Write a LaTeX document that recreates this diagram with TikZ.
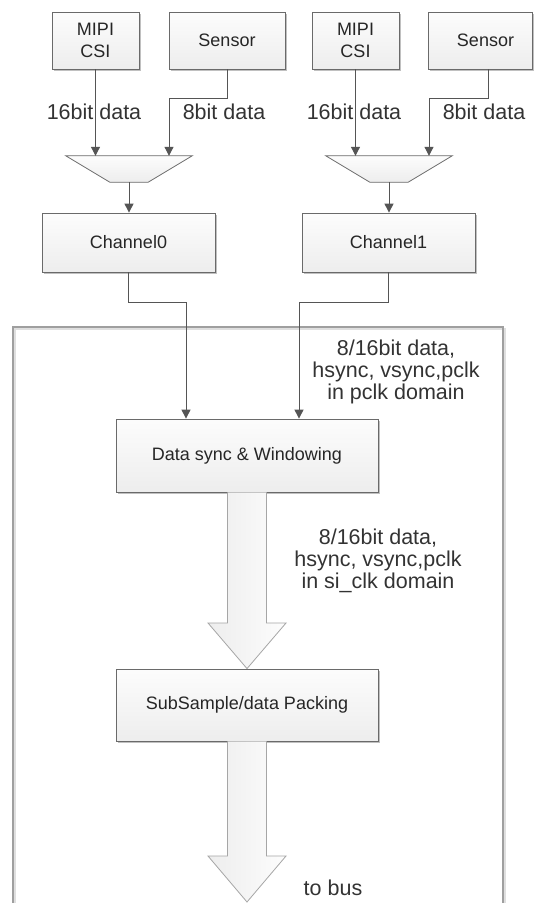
\documentclass[tikz,border=0pt]{standalone}
\usepackage{fontspec}
\setmainfont{Liberation Sans}
\usetikzlibrary{arrows.meta,shadows,calc}
\definecolor{lineC}{HTML}{555555}
\definecolor{boxC}{HTML}{6A6A6A}
\definecolor{txtC}{HTML}{333333}
\begin{document}
\begin{tikzpicture}[x=1pt,y=-1pt,
 blk/.style={draw=boxC, line width=0.8pt, top color=gray!2, bottom color=gray!14,
   text=black!85, font=\fontsize{18}{22}\selectfont, inner sep=0pt, align=center,
   drop shadow={shadow xshift=2pt, shadow yshift=-2pt, fill=gray!70, opacity=0.7}},
 lbl/.style={text=txtC, font=\fontsize{21.5}{22}\selectfont, inner sep=0pt, align=center},
 conn/.style={draw=lineC, line width=1pt, -{Triangle[width=9pt,length=9pt]}},
 muxbox/.style={minimum width=126pt, minimum height=26pt, inner sep=0pt},
 muxshape/.style={draw=boxC, line width=0.8pt, top color=gray!2, bottom color=gray!14},
 bigarrow/.style={draw=gray!70, line width=0.8pt, left color=gray!14, right color=gray!2},
 frame/.style={draw=gray!75, line width=1.2pt},
 frameshadow/.style={draw=gray!25, line width=1.2pt},
]
\useasboundingbox (0,0) rectangle (534,903);
\fill[white] (0,0) rectangle (534,903);

% outer frame (open at the bottom)
\draw[frameshadow] (15,910) -- (15,329) -- (505,329) -- (505,910);
\draw[frame] (13,910) -- (13,327) -- (503,327) -- (503,910);

% sources
\node[blk, minimum width=87pt, minimum height=57pt] (mipi0) at (95.5,40.5) {MIPI\\CSI};
\node[blk, minimum width=116pt, minimum height=57pt] (sens0) at (227,40.5) {Sensor};
\node[blk, minimum width=87pt, minimum height=57pt] (mipi1) at (355.5,40.5) {MIPI\\CSI};
\node[blk, minimum width=104pt, minimum height=57pt] (sens1) at (480,40.5) {\hspace*{11pt}Sensor};

% muxes
\node[muxbox] (mux0) at (129,169) {};
\node[muxbox] (mux1) at (389,169) {};
\foreach \m in {mux0,mux1}{
  \path[muxshape] (\m.north west) -- (\m.north east) -- ($(\m.south east)+(-44,0)$)
     -- ($(\m.south west)+(44,0)$) -- cycle;
}

% channels
\node[blk, minimum width=173pt, minimum height=59pt] (ch0) at (128.5,242.5) {Channel0};
\node[blk, minimum width=173pt, minimum height=59pt] (ch1) at (388.5,242.5) {Channel1};

% inner blocks
\node[blk, minimum width=262pt, minimum height=73pt] (sync) at (247,455.5) {Data sync \& Windowing};
\node[blk, minimum width=262pt, minimum height=72pt] (sub) at (247,705) {SubSample/data Packing};
\coordinate (bus) at (247,902);

% connectors to muxes
\draw[conn] (mipi0.south) -- (mipi0.south |- mux0.north);
\draw[conn] (sens0.south) -- ++(0,29) -| ([xshift=40pt]mux0.north);
\draw[conn] (mipi1.south) -- (mipi1.south |- mux1.north);
\draw[conn] ([xshift=8pt]sens1.south) -- ++(0,29) -| ([xshift=40pt]mux1.north);

% mux to channel
\draw[conn] (mux0.south) -- (mux0.south |- ch0.north);
\draw[conn] (mux1.south) -- (mux1.south |- ch1.north);

% channels to sync
\draw[conn] (ch0.south) -- ++(0,30) -| ([xshift=-61pt]sync.north);
\draw[conn] (ch1.south) -- ++(0,30) -| ([xshift=52pt]sync.north);

% big arrows
\draw[bigarrow] ($(sync.south)+(-19.5,0)$) -- (227.5,623) -- (208,623) -- (sub.north)
   -- (286,623) -- (266.5,623) -- ($(sync.south)+(19.5,0)$);
\draw[bigarrow] ($(sub.south)+(-19.5,0)$) -- (227.5,856) -- (208,856) -- (bus)
   -- (286,856) -- (266.5,856) -- ($(sub.south)+(19.5,0)$);

% labels
\node[lbl] (l16a) at (94,112) {16bit data};
\node[lbl] (l8a) at (224,112) {8bit data};
\node[lbl] (l16b) at (354,112) {16bit data};
\node[lbl] (l8b) at (484,112) {8bit data};
\node[lbl] (t1) at (396,372) {8/16bit data,\\hsync, vsync,pclk\\in pclk domain};
\node[lbl] (t2) at (378,561) {8/16bit data,\\hsync, vsync,pclk\\in si\_clk domain};
\node[lbl] (t3) at (333,888) {to bus};
\end{tikzpicture}
\end{document}
